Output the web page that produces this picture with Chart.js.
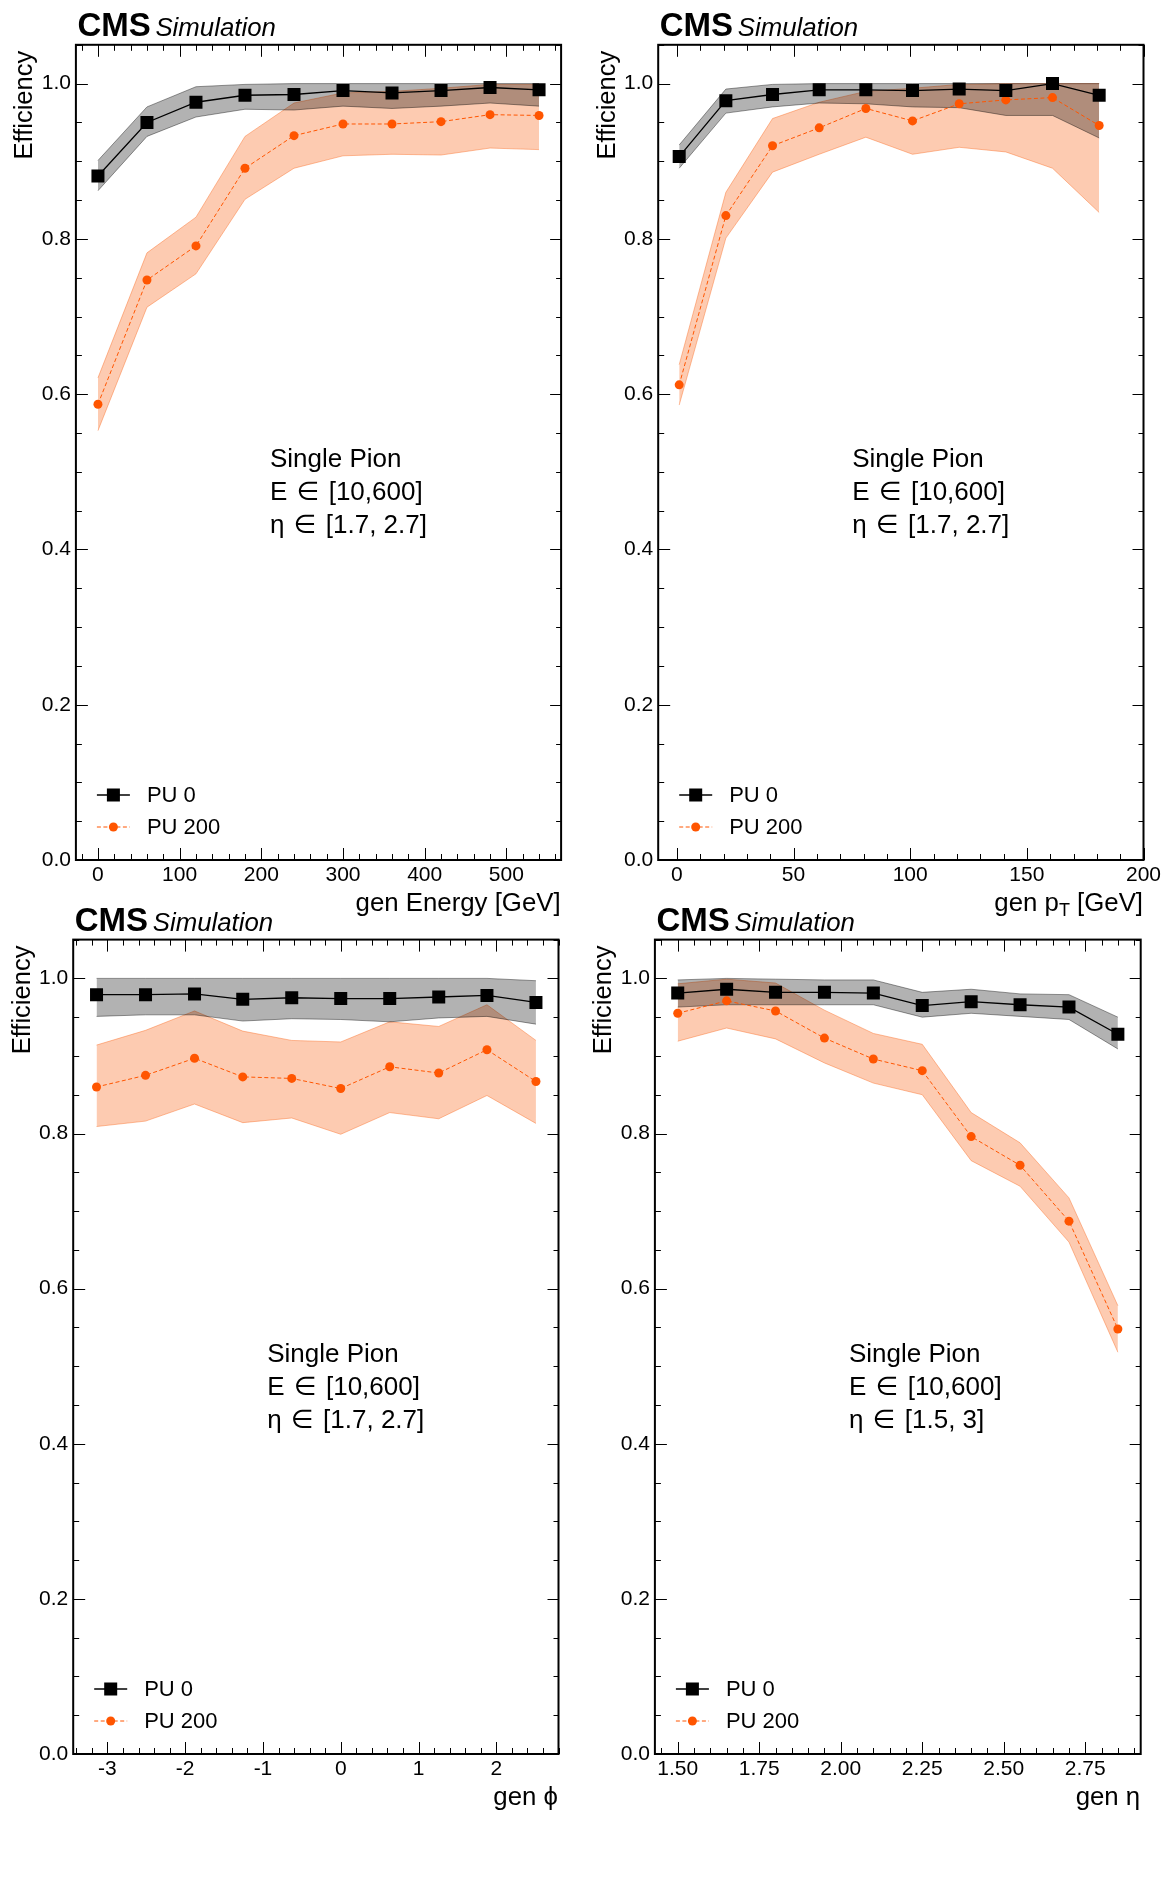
<!DOCTYPE html>
<html><head><meta charset="utf-8">
<script src="https://cdn.jsdelivr.net/npm/chart.js@4.4.1/dist/chart.umd.min.js"></script>
<style>
html,body{margin:0;padding:0;background:#fff;}
body{width:1170px;height:1900px;position:relative;overflow:hidden;}
canvas{position:absolute;}
</style></head><body>
<canvas id="c1" width="585" height="930" style="left:0px;top:0px"></canvas>
<canvas id="c2" width="585" height="930" style="left:585px;top:0px"></canvas>
<canvas id="c3" width="585" height="1010" style="left:0px;top:890px"></canvas>
<canvas id="c4" width="585" height="1010" style="left:585px;top:890px"></canvas>
<script>
// ---------------- data ----------------
const yTicks = [0, 0.2, 0.4, 0.6, 0.8, 1.0];
const yTickLabels = ['0.0', '0.2', '0.4', '0.6', '0.8', '1.0'];

// Panel 1: gen Energy
const energyX = [0, 60, 120, 180, 240, 300, 360, 420, 480, 540];
const energyPU0 = [0.881, 0.950, 0.976, 0.985, 0.986, 0.991, 0.988, 0.991, 0.995, 0.992];
const energyPU0Hi = [0.901, 0.970, 0.996, 0.999, 1.0, 1.0, 1.0, 1.0, 1.0, 1.0];
const energyPU0Lo = [0.862, 0.932, 0.957, 0.967, 0.966, 0.971, 0.968, 0.971, 0.975, 0.971];
const energyPU200 = [0.587, 0.747, 0.791, 0.891, 0.933, 0.948, 0.948, 0.951, 0.960, 0.959];
const energyPU200Hi = [0.621, 0.782, 0.828, 0.932, 0.975, 0.988, 0.990, 0.994, 0.999, 0.999];
const energyPU200Lo = [0.553, 0.712, 0.755, 0.851, 0.891, 0.907, 0.909, 0.908, 0.917, 0.915];
const energyTicks = [0, 100, 200, 300, 400, 500];
const energyTickLabels = ['0', '100', '200', '300', '400', '500'];

// Panel 2: gen pT
const ptX = [1, 21, 41, 61, 81, 101, 121, 141, 161, 181];
const ptPU0 = [0.906, 0.978, 0.986, 0.992, 0.992, 0.991, 0.993, 0.991, 1.0, 0.985];
const ptPU0Hi = [0.921, 0.993, 0.999, 1.0, 1.0, 1.0, 1.0, 1.0, 1.0, 1.0];
const ptPU0Lo = [0.891, 0.962, 0.970, 0.975, 0.974, 0.970, 0.969, 0.959, 0.959, 0.930];
const ptPU200 = [0.612, 0.830, 0.920, 0.943, 0.968, 0.952, 0.974, 0.979, 0.982, 0.946];
const ptPU200Hi = [0.638, 0.860, 0.955, 0.976, 0.990, 0.994, 0.999, 1.0, 1.0, 1.0];
const ptPU200Lo = [0.586, 0.801, 0.886, 0.909, 0.931, 0.909, 0.918, 0.912, 0.891, 0.834];
const ptTicks = [0, 50, 100, 150, 200];
const ptTickLabels = ['0', '50', '100', '150', '200'];

// Panel 3: gen phi
const phiX = [-3.14, -2.51, -1.88, -1.26, -0.63, 0.0, 0.63, 1.26, 1.88, 2.51];
const phiPU0 = [0.979, 0.979, 0.980, 0.973, 0.975, 0.974, 0.974, 0.976, 0.978, 0.969];
const phiPU0Hi = [1.0, 1.0, 1.0, 1.0, 1.0, 1.0, 1.0, 1.0, 1.0, 0.997];
const phiPU0Lo = [0.951, 0.953, 0.953, 0.945, 0.948, 0.947, 0.944, 0.949, 0.951, 0.941];
const phiPU200 = [0.860, 0.875, 0.897, 0.873, 0.871, 0.858, 0.886, 0.878, 0.908, 0.867];
const phiPU200Hi = [0.914, 0.933, 0.958, 0.932, 0.920, 0.918, 0.944, 0.938, 0.966, 0.920];
const phiPU200Lo = [0.809, 0.816, 0.838, 0.814, 0.820, 0.799, 0.827, 0.819, 0.849, 0.813];
const phiTicks = [-3, -2, -1, 0, 1, 2];
const phiTickLabels = ['-3', '-2', '-1', '0', '1', '2'];

// Panel 4: gen eta
const etaX = [1.50, 1.65, 1.80, 1.95, 2.10, 2.25, 2.40, 2.55, 2.70, 2.85];
const etaPU0 = [0.981, 0.986, 0.982, 0.982, 0.981, 0.965, 0.970, 0.966, 0.963, 0.928];
const etaPU0Hi = [0.998, 1.0, 0.999, 0.998, 0.998, 0.982, 0.986, 0.980, 0.979, 0.950];
const etaPU0Lo = [0.963, 0.966, 0.966, 0.966, 0.966, 0.950, 0.955, 0.951, 0.947, 0.909];
const etaPU200 = [0.955, 0.971, 0.958, 0.923, 0.896, 0.881, 0.796, 0.759, 0.687, 0.548];
const etaPU200Hi = [0.993, 0.999, 0.994, 0.959, 0.929, 0.915, 0.827, 0.788, 0.717, 0.578];
const etaPU200Lo = [0.919, 0.936, 0.922, 0.891, 0.865, 0.850, 0.765, 0.732, 0.660, 0.518];
const etaTicks = [1.50, 1.75, 2.00, 2.25, 2.50, 2.75];
const etaTickLabels = ['1.50', '1.75', '2.00', '2.25', '2.50', '2.75'];

const legendLabels = ['PU 0', 'PU 200'];

// ---------------- style ----------------
const FONT = "'Liberation Sans', 'DejaVu Sans', Arial, sans-serif";
const ORANGE = 'rgb(255,85,0)';
const ORANGE_BAND = 'rgba(250,110,40,0.36)';
const ORANGE_EDGE = 'rgba(250,110,40,0.45)';
const GRAY_BAND = 'rgba(0,0,0,0.30)';
const GRAY_EDGE = 'rgba(0,0,0,0.40)';

const deco = {
  id: 'deco',
  afterDraw(chart, args, o) {
    const ctx = chart.ctx, ca = chart.chartArea;
    const xs = chart.scales.x, ys = chart.scales.y;
    ctx.save();
    ctx.fillStyle = '#000';
    ctx.strokeStyle = '#000';
    // tick marks (inside frame, all sides)
    ctx.lineWidth = 1;
    ctx.beginPath();
    const near = (v, arr) => arr.some(t => Math.abs(t - v) < 1e-6);
    const i0 = Math.ceil(xs.min / o.xMinor - 1e-6), i1 = Math.floor(xs.max / o.xMinor + 1e-6);
    for (let i = i0; i <= i1; i++) {
      const v = i * o.xMinor;
      const px = Math.round(xs.getPixelForValue(v)) + 0.5;
      const len = near(v, o.xMajor) ? 12 : 6;
      ctx.moveTo(px, ca.bottom); ctx.lineTo(px, ca.bottom - len);
      ctx.moveTo(px, ca.top); ctx.lineTo(px, ca.top + len);
    }
    const j1 = Math.floor(ys.max / o.yMinor + 1e-6);
    for (let j = 0; j <= j1; j++) {
      const v = j * o.yMinor;
      const py = Math.round(ys.getPixelForValue(v)) + 0.5;
      const major = near(v, yTicks);
      ctx.moveTo(ca.left, py); ctx.lineTo(ca.left + (major ? 12 : 6), py);
      ctx.moveTo(ca.right, py); ctx.lineTo(ca.right - (major ? 11 : 5), py);
    }
    ctx.stroke();
    // frame
    ctx.lineWidth = 2;
    ctx.strokeRect(ca.left, ca.top, ca.right - ca.left, ca.bottom - ca.top);

    // CMS Simulation
    ctx.textBaseline = 'alphabetic';
    ctx.textAlign = 'left';
    ctx.font = 'bold 33px ' + FONT;
    ctx.fillText('CMS', ca.left + 1.5, ca.top - 8.5);
    ctx.font = 'italic 25.8px ' + FONT;
    ctx.fillText('Simulation', ca.left + 79.5, ca.top - 8.5);

    // y title
    ctx.save();
    ctx.translate(ca.left - 43.5, ca.top + 6);
    ctx.rotate(-Math.PI / 2);
    ctx.textAlign = 'right';
    ctx.font = '25.5px ' + FONT;
    ctx.fillText('Efficiency', 0, 0);
    ctx.restore();

    // x title (segments, right aligned)
    const base = ca.bottom + 50.5;
    let total = 0;
    const segs = o.xTitle.map(s => {
      ctx.font = (s.sub ? '18px ' : '25.8px ') + FONT;
      const w = ctx.measureText(s.t).width;
      total += w;
      return {t: s.t, sub: s.sub, w};
    });
    let x = ca.right - 0.5 - total;
    for (const s of segs) {
      ctx.font = (s.sub ? '18px ' : '25.8px ') + FONT;
      ctx.fillText(s.t, x, base + (s.sub ? 5 : 0));
      x += s.w;
    }

    // annotation
    ctx.font = '26px ' + FONT;
    ctx.textBaseline = 'middle';
    o.note.forEach((t, i) => ctx.fillText(t, ca.left + 194, ca.top + 415 + i * 33));

    // legend
    const lx0 = ca.left + 21, lx1 = ca.left + 54, mx = ca.left + 37.5;
    const r0 = ca.bottom - 65, r1 = ca.bottom - 33;
    ctx.lineWidth = 1.3; ctx.strokeStyle = '#000';
    ctx.beginPath(); ctx.moveTo(lx0, r0); ctx.lineTo(lx1, r0); ctx.stroke();
    ctx.fillRect(mx - 6.5, r0 - 6.5, 13, 13);
    ctx.lineWidth = 1; ctx.strokeStyle = ORANGE; ctx.setLineDash([4, 2.5]);
    ctx.beginPath(); ctx.moveTo(lx0, r1); ctx.lineTo(lx1, r1); ctx.stroke();
    ctx.setLineDash([]);
    ctx.fillStyle = ORANGE;
    ctx.beginPath(); ctx.arc(mx, r1, 4.5, 0, Math.PI * 2); ctx.fill();
    ctx.fillStyle = '#000';
    ctx.font = '22px ' + FONT;
    ctx.fillText(legendLabels[0], ca.left + 71, r0 + 1);
    ctx.fillText(legendLabels[1], ca.left + 71, r1 + 1);
    ctx.restore();
  }
};

function makeChart(id, p) {
  const pts = (vals) => p.x.map((x, i) => ({x: x, y: vals[i]}));
  return new Chart(document.getElementById(id), {
    type: 'line',
    data: {
      datasets: [
        {data: pts(p.pu200Hi), fill: '+1', backgroundColor: ORANGE_BAND, borderColor: ORANGE_EDGE, borderWidth: 1, pointRadius: 0, order: 10},
        {data: pts(p.pu200Lo), fill: false, borderColor: ORANGE_EDGE, borderWidth: 1, pointRadius: 0, order: 10},
        {data: pts(p.pu0Hi), fill: '+1', backgroundColor: GRAY_BAND, borderColor: GRAY_EDGE, borderWidth: 1, pointRadius: 0, order: 8},
        {data: pts(p.pu0Lo), fill: false, borderColor: GRAY_EDGE, borderWidth: 1, pointRadius: 0, order: 8},
        {data: pts(p.pu200), fill: false, borderColor: ORANGE, borderWidth: 1, borderDash: [4, 2.5],
         pointStyle: 'circle', pointRadius: 4.5, pointBackgroundColor: ORANGE, pointBorderWidth: 0, order: 4},
        {data: pts(p.pu0), fill: false, borderColor: '#000', borderWidth: 1.3,
         pointStyle: 'rect', pointRadius: 9.2, pointBackgroundColor: '#000', pointBorderWidth: 0, order: 2}
      ]
    },
    options: {
      responsive: false, animation: false, devicePixelRatio: 1,
      layout: {padding: {left: 0, right: p.padR, top: p.padT, bottom: p.padB}},
      plugins: {
        legend: {display: false}, tooltip: {enabled: false},
        deco: {xMinor: p.xMinor, xMajor: p.xTicks, yMinor: 0.05, xTitle: p.xTitle, note: p.note}
      },
      scales: {
        x: {
          type: 'linear', min: p.xMin, max: p.xMax,
          grid: {display: false, drawTicks: false}, border: {display: false},
          afterBuildTicks: s => { s.ticks = p.xTicks.map(v => ({value: v})); },
          afterFit: s => { s.height = 50; },
          ticks: {autoSkip: false, maxRotation: 0, padding: 3, color: '#000',
                  font: {family: FONT, size: 21}, callback: (v, i) => p.xTickLabels[i]}
        },
        y: {
          type: 'linear', min: 0, max: 1.05,
          grid: {display: false, drawTicks: false}, border: {display: false},
          afterBuildTicks: s => { s.ticks = yTicks.map(v => ({value: v})); },
          afterFit: s => { s.width = p.yW; },
          ticks: {autoSkip: false, padding: 5, color: '#000',
                  font: {family: FONT, size: 21}, callback: (v, i) => yTickLabels[i]}
        }
      }
    },
    plugins: [deco]
  });
}

const noteA = ['Single Pion', 'E \u200A\u2208\u200A [10,600]', '\u03B7 \u200A\u2208\u200A [1.7, 2.7]'];
const noteB = ['Single Pion', 'E \u200A\u2208\u200A [10,600]', '\u03B7 \u200A\u2208\u200A [1.5, 3]'];

makeChart('c1', {
  x: energyX, pu0: energyPU0, pu0Hi: energyPU0Hi, pu0Lo: energyPU0Lo,
  pu200: energyPU200, pu200Hi: energyPU200Hi, pu200Lo: energyPU200Lo,
  xMin: -27, xMax: 567, xTicks: energyTicks, xTickLabels: energyTickLabels, xMinor: 20,
  yW: 75.9, padR: 23.9, padT: 44.8, padB: 20,
  xTitle: [{t: 'gen Energy [GeV]'}],
  note: noteA
});
makeChart('c2', {
  x: ptX, pu0: ptPU0, pu0Hi: ptPU0Hi, pu0Lo: ptPU0Lo,
  pu200: ptPU200, pu200Hi: ptPU200Hi, pu200Lo: ptPU200Lo,
  xMin: -8, xMax: 200, xTicks: ptTicks, xTickLabels: ptTickLabels, xMinor: 10,
  yW: 73.2, padR: 26.5, padT: 44.8, padB: 20,
  xTitle: [{t: 'gen p'}, {t: 'T', sub: true}, {t: ' [GeV]'}],
  note: noteA
});
makeChart('c3', {
  x: phiX, pu0: phiPU0, pu0Hi: phiPU0Hi, pu0Lo: phiPU0Lo,
  pu200: phiPU200, pu200Hi: phiPU200Hi, pu200Lo: phiPU200Lo,
  xMin: -3.44, xMax: 2.80, xTicks: phiTicks, xTickLabels: phiTickLabels, xMinor: 0.2,
  yW: 73.2, padR: 26.5, padT: 49.6, padB: 96,
  xTitle: [{t: 'gen \u03D5'}],
  note: noteA
});
makeChart('c4', {
  x: etaX, pu0: etaPU0, pu0Hi: etaPU0Hi, pu0Lo: etaPU0Lo,
  pu200: etaPU200, pu200Hi: etaPU200Hi, pu200Lo: etaPU200Lo,
  xMin: 1.43, xMax: 2.92, xTicks: etaTicks, xTickLabels: etaTickLabels, xMinor: 0.05,
  yW: 69.9, padR: 29.3, padT: 49.6, padB: 96,
  xTitle: [{t: 'gen \u03B7'}],
  note: noteB
});
</script>
</body></html>
